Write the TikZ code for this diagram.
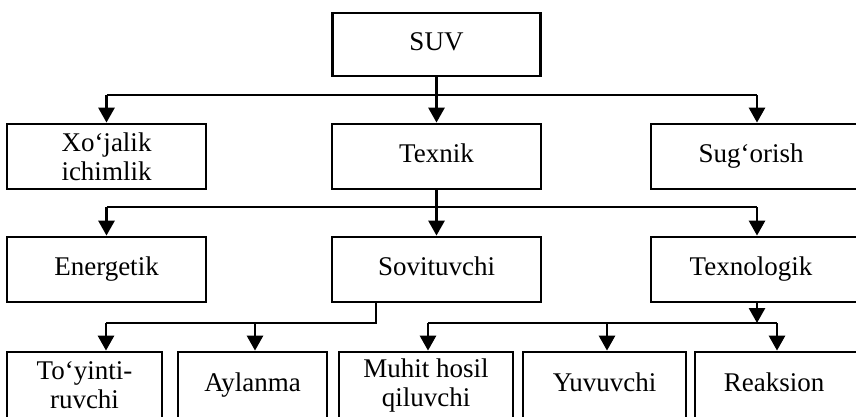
\documentclass[tikz,border=0pt]{standalone}
\usepackage{fontspec}
\setmainfont{Liberation Serif}
\usetikzlibrary{arrows.meta}
\begin{document}
\begin{tikzpicture}[x=1pt,y=-1pt,
  box/.style={draw, line width=2.8pt, rectangle, inner sep=0pt, align=center,
              font=\fontsize{27}{29}\selectfont},
  one/.style={text height=18pt, text depth=6pt},
  conn/.style={line width=2.8pt},
  arr/.style={line width=2.8pt, -{Triangle[width=16pt,length=15pt]}}]
\useasboundingbox (0,0) rectangle (856,416);
\clip (0,0) rectangle (856,416);
% row 1
\node[box, one, minimum width=208pt, minimum height=63pt] (suv) at (436.5,44.5) {SUV};
% row 2
\node[box, minimum width=199pt, minimum height=65pt] (xoj) at (106.5,156.5) {Xo‘jalik\\ichimlik};
\node[box, one, minimum width=209pt, minimum height=65pt] (tex) at (436.5,156.5) {Texnik};
\node[box, one, minimum width=212pt, minimum height=65pt, text width=200pt] (sug) at (757,156.5) {\hspace*{-12pt}Sug‘orish};
% row 3
\node[box, one, minimum width=199pt, minimum height=65pt] (ene) at (106.5,269.5) {Energetik};
\node[box, one, minimum width=209pt, minimum height=65pt] (sov) at (436.5,269.5) {Sovituvchi};
\node[box, one, minimum width=212pt, minimum height=65pt, text width=200pt] (tlo) at (757,269.5) {\hspace*{-12pt}Texnologik};
% row 4
\node[box, minimum width=155pt, minimum height=66pt] (toy) at (84.5,385) {To‘yinti-\\ruvchi};
\node[box, one, minimum width=149pt, minimum height=66pt] (ayl) at (252.5,385) {Aylanma};
\node[box, minimum width=174pt, minimum height=66pt] (muh) at (426,385) {Muhit hosil\\qiluvchi};
\node[box, one, minimum width=163pt, minimum height=66pt] (yuv) at (604.5,385) {Yuvuvchi};
\node[box, one, minimum width=170pt, minimum height=66pt, text width=160pt] (rea) at (780,385) {\hspace*{-12pt}Reaksion};
% bar levels
\coordinate (b1) at (0,95);
\coordinate (b2) at (0,207);
\coordinate (b3) at (0,323);
% SUV -> row 2
\draw[conn] (suv.south) -- (suv.south |- b1);
\draw[conn] (xoj.north |- b1) -- (sug.north |- b1);
\draw[arr] (xoj.north |- b1) -- (xoj.north);
\draw[arr] (tex.north |- b1) -- (tex.north);
\draw[arr] (sug.north |- b1) -- (sug.north);
% Texnik -> row 3
\draw[conn] (tex.south) -- (tex.south |- b2);
\draw[conn] (ene.north |- b2) -- (tlo.north |- b2);
\draw[arr] (ene.north |- b2) -- (ene.north);
\draw[arr] (sov.north |- b2) -- (sov.north);
\draw[arr] (tlo.north |- b2) -- (tlo.north);
% Sovituvchi -> To'yinti, Aylanma
\coordinate (sovs) at (376,302);
\coordinate (toyt) at (106,0);
\coordinate (aylt) at (255,0);
\draw[conn] (sovs |- sov.south) -- (sovs |- b3) -- (toyt |- b3);
\draw[arr] (toyt |- b3) -- (toyt |- toy.north);
\draw[arr] (aylt |- b3) -- (aylt |- ayl.north);
% Texnologik -> Muhit, Yuvuvchi, Reaksion
\coordinate (muht) at (428,0);
\coordinate (yuvt) at (607,0);
\coordinate (reat) at (777,0);
\draw[arr] (tlo.south) -- (tlo.south |- b3);
\draw[conn] (muht |- b3) -- (reat |- b3);
\draw[arr] (muht |- b3) -- (muht |- muh.north);
\draw[arr] (yuvt |- b3) -- (yuvt |- yuv.north);
\draw[arr] (reat |- b3) -- (reat |- rea.north);
\end{tikzpicture}
\end{document}
